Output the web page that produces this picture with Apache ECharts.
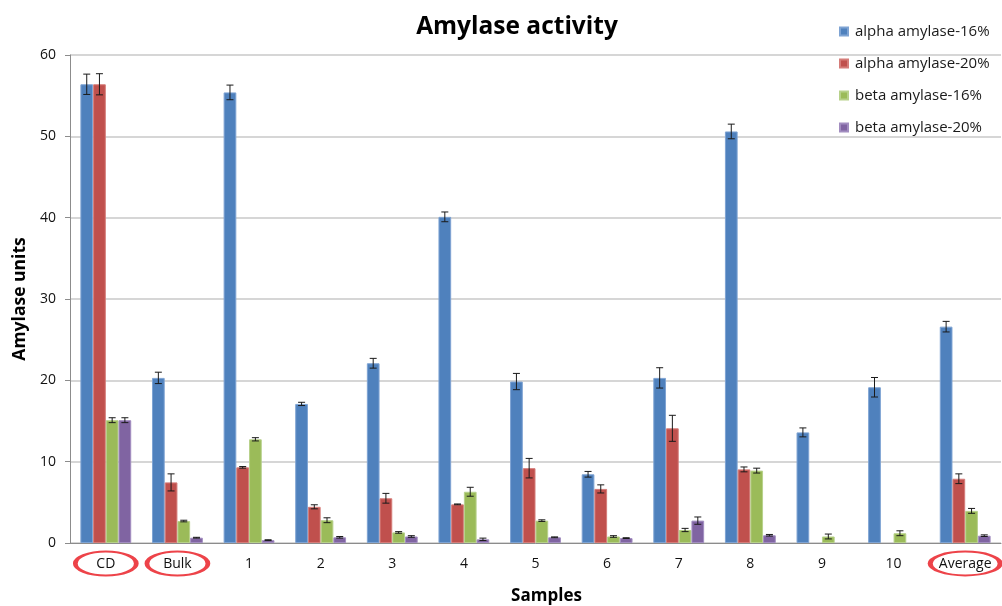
<!DOCTYPE html>
<html>
<head>
<meta charset="utf-8">
<title>Amylase activity</title>
<script src="https://cdn.jsdelivr.net/npm/echarts@6/dist/echarts.min.js"></script>
<style>
  html, body { margin: 0; padding: 0; background: #fff; }
  #chart { width: 1002px; height: 606px; }
</style>
</head>
<body>
<div id="chart"></div>
<script>
// Sample groups on the x axis
const categories = ['CD', 'Bulk', '1', '2', '3', '4', '5', '6', '7', '8', '9', '10', 'Average'];
// Groups whose labels are ringed in red
const circledCategories = ['CD', 'Bulk', 'Average'];

// Series names
const seriesNames = ['alpha amylase-16%', 'alpha amylase-20%', 'beta amylase-16%', 'beta amylase-20%'];

// Mean activity (amylase units) and error (±) per sample
const alpha16 = [56.4, 20.3, 55.4, 17.1, 22.1, 40.1, 19.85, 8.45, 20.3, 50.6, 13.6, 19.15, 26.6];
const alpha16Err = [1.25, 0.7, 0.9, 0.2, 0.6, 0.6, 1.0, 0.35, 1.25, 0.9, 0.55, 1.2, 0.65];

const alpha20 = [56.4, 7.45, 9.3, 4.45, 5.5, 4.75, 9.2, 6.65, 14.1, 9.05, null, null, 7.9];
const alpha20Err = [1.3, 1.05, 0.1, 0.25, 0.6, 0.05, 1.2, 0.5, 1.6, 0.3, null, null, 0.6];

const beta16 = [15.1, 2.7, 12.75, 2.8, 1.3, 6.3, 2.75, 0.8, 1.6, 8.9, 0.8, 1.2, 3.95];
const beta16Err = [0.3, 0.1, 0.2, 0.3, 0.1, 0.55, 0.1, 0.1, 0.2, 0.3, 0.3, 0.3, 0.3];

const beta20 = [15.1, 0.65, 0.35, 0.7, 0.8, 0.45, 0.7, 0.6, 2.75, 0.95, null, null, 0.9];
const beta20Err = [0.3, 0.05, 0.05, 0.1, 0.1, 0.15, 0.05, 0.05, 0.45, 0.1, null, null, 0.1];

// Y axis ticks
const yTicks = [0, 10, 20, 30, 40, 50, 60];

const values = [alpha16, alpha20, beta16, beta20];
const errors = [alpha16Err, alpha20Err, beta16Err, beta20Err];
const colors = ['#4F81BD', '#C0504D', '#9BBB59', '#8064A2'];
const edgeColors = ['#7EA3D3', '#D57C79', '#B7D18A', '#A28DC0'];

const FONT = '"Open Sans", "Noto Sans", sans-serif';
const CAT_GAP = 0.29; // fraction of each category left empty

const chart = echarts.init(document.getElementById('chart'), null, { renderer: 'canvas' });

const barSeries = values.map((vals, i) => ({
  name: seriesNames[i],
  type: 'bar',
  xAxisIndex: 0,
  yAxisIndex: 0,
  data: vals,
  barGap: '0%',
  barCategoryGap: (CAT_GAP * 100) + '%',
  itemStyle: { color: colors[i], borderColor: edgeColors[i], borderWidth: 1 },
  emphasis: { disabled: true },
  z: 2
}));

// Error bars drawn over each bar at the same slot within the group
const errorSeries = values.map((vals, i) => ({
  name: seriesNames[i] + ' error',
  type: 'custom',
  xAxisIndex: 0,
  yAxisIndex: 0,
  data: vals.map((v, k) => (v == null || errors[i][k] == null) ? null : [k, v - errors[i][k], v + errors[i][k]]),
  renderItem: function (params, api) {
    if (api.value(1) == null || isNaN(api.value(1))) return;
    const k = api.value(0);
    const band = api.size([1, 0])[0];
    const group = band * (1 - CAT_GAP);
    const barW = group / 4;
    const lo = api.coord([k, api.value(1)]);
    const hi = api.coord([k, api.value(2)]);
    const x = lo[0] - group / 2 + barW * (i + 0.5);
    const cap = 3.5;
    const style = { stroke: '#1a1a1a', lineWidth: 1 };
    return {
      type: 'group',
      children: [
        { type: 'line', shape: { x1: x, y1: lo[1], x2: x, y2: hi[1] }, style: style },
        { type: 'line', shape: { x1: x - cap, y1: lo[1], x2: x + cap, y2: lo[1] }, style: style },
        { type: 'line', shape: { x1: x - cap, y1: hi[1], x2: x + cap, y2: hi[1] }, style: style }
      ]
    };
  },
  silent: true,
  z: 5
}));

const option = {
  backgroundColor: '#ffffff',
  animation: false,
  textStyle: { fontFamily: FONT },
  title: {
    text: 'Amylase activity',
    left: 512,
    textAlign: 'center',
    top: 10,
    textStyle: { fontFamily: FONT, fontWeight: 'bold', fontSize: 24.5, color: '#000' }
  },
  legend: {
    data: seriesNames,
    orient: 'vertical',
    left: 834,
    top: 17,
    icon: 'rect',
    itemWidth: 8,
    itemHeight: 8,
    itemGap: 13,
    textStyle: { fontFamily: FONT, fontSize: 15, color: '#1a1a1a', lineHeight: 19, padding: [0, 0, 0, 2] }
  },
  grid: [
    { left: 70, right: 1, top: 55, bottom: 63, containLabel: false, outerBoundsMode: 'none' },
    { left: 70, right: 1, top: 552, height: 23, containLabel: false, outerBoundsMode: 'none' }
  ],
  xAxis: [
    {
      type: 'category',
      gridIndex: 0,
      data: categories,
      axisLine: { lineStyle: { color: '#8c8c8c', width: 1 } },
      axisTick: { show: false },
      axisLabel: { fontFamily: FONT, fontSize: 14, color: '#111', margin: 14 },
      name: 'Samples',
      nameLocation: 'middle',
      nameGap: 45,
      nameTextStyle: { fontFamily: FONT, fontWeight: 'bold', fontSize: 17, color: '#000', padding: [0, 0, 0, 22] }
    },
    {
      type: 'category',
      gridIndex: 1,
      data: categories,
      show: false
    }
  ],
  yAxis: [
    {
      type: 'value',
      gridIndex: 0,
      min: yTicks[0],
      max: yTicks[yTicks.length - 1],
      interval: yTicks[1] - yTicks[0],
      axisLine: { show: true, lineStyle: { color: '#8c8c8c', width: 1 } },
      axisTick: { show: true, length: 5, inside: false, lineStyle: { color: '#8c8c8c' } },
      splitLine: { lineStyle: { color: '#c8c8c8', width: 1.5 } },
      axisLabel: { fontFamily: FONT, fontSize: 14, color: '#111', margin: 14 },
      name: 'Amylase units',
      nameLocation: 'middle',
      nameRotate: 90,
      nameGap: 40,
      nameTextStyle: { fontFamily: FONT, fontWeight: 'bold', fontSize: 17.5, color: '#000' }
    },
    {
      type: 'value',
      gridIndex: 1,
      min: 0,
      max: 1,
      show: false
    }
  ],
  series: barSeries.concat(errorSeries).concat([
    {
      // red rings around selected category labels
      type: 'scatter',
      xAxisIndex: 1,
      yAxisIndex: 1,
      data: circledCategories.map(c => [c, 0.5]),
      symbol: 'circle',
      symbolSize: function (v) { return v[0] === 'Average' ? [70, 24] : [61, 24]; },
      itemStyle: { color: 'rgba(0,0,0,0)', borderColor: '#E8141B', borderWidth: 3 },
      silent: true,
      clip: false,
      z: 10
    }
  ])
};

chart.setOption(option);
</script>
</body>
</html>
